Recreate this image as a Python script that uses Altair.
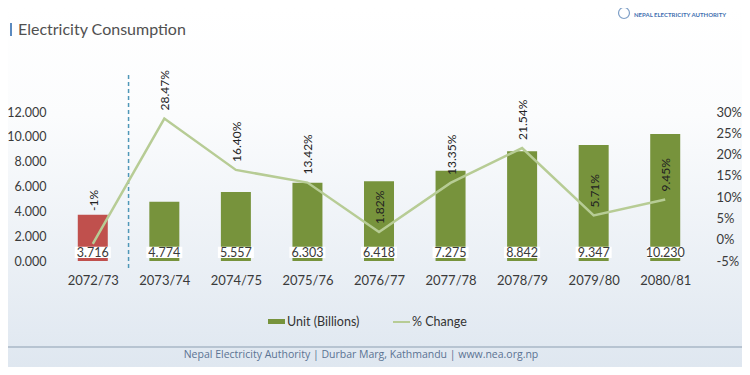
import json
import altair as alt
import pandas as pd

# ---- data ----
years = ["2072/73", "2073/74", "2074/75", "2075/76", "2076/77",
         "2077/78", "2078/79", "2079/80", "2080/81"]
units = [3.716, 4.774, 5.557, 6.303, 6.418, 7.275, 8.842, 9.347, 10.230]
unit_labels = ["3.716", "4.774", "5.557", "6.303", "6.418",
               "7.275", "8.842", "9.347", "10.230"]
pct_change = [-1.0, 28.47, 16.40, 13.42, 1.82, 13.35, 21.54, 5.71, 9.45]
pct_labels = ["-1%", "28.47%", "16.40%", "13.42%", "1.82%",
              "13.35%", "21.54%", "5.71%", "9.45%"]
left_ticks = [0, 2, 4, 6, 8, 10, 12]
right_ticks = [-5, 0, 5, 10, 15, 20, 25, 30]

title_text = "Electricity Consumption"
legend_labels = ["Unit (Billions)", "% Change"]
footer_text = "Nepal Electricity Authority | Durbar Marg, Kathmandu | www.nea.org.np"
logo_text = "NEPAL ELECTRICITY AUTHORITY"

df = pd.DataFrame({
    "idx": list(range(len(years))),
    "year": years,
    "unit": units,
    "unit_label": unit_labels,
    "pct": pct_change,
    "pct_label": pct_labels,
})

GREEN = "#77933c"
RED = "#c0504d"
LINE = "#b7cc95"
TXT = "#3a3a3a"
FONT = "Lato"

W, H = 654, 149
PAD_L = 44

xscale = alt.Scale(domain=[-0.5, len(years) - 0.5], nice=False, zero=False)
xaxis = alt.Axis(values=list(range(len(years))),
                 labelExpr=json.dumps(years) + "[datum.value]",
                 domain=False, ticks=False, grid=False, title=None, zindex=2,
                 labelPadding=13, labelFontSize=13, labelColor=TXT, labelFont=FONT)
X = alt.X("idx:Q", scale=xscale, axis=xaxis)

yl = alt.Scale(domain=[0, 12], nice=False, zero=False)
yl_axis = alt.Axis(values=left_ticks, format=".3f", domain=False, ticks=False,
                   grid=False, title=None, zindex=2, labelPadding=6,
                   labelFontSize=12.5, labelColor=TXT, labelFont=FONT)
yr = alt.Scale(domain=[-5, 30], nice=False, zero=False)
yr_axis = alt.Axis(orient="right", values=right_ticks,
                   labelExpr="datum.value + '%'", domain=False, ticks=False,
                   grid=False, title=None, zindex=2, labelPadding=10,
                   labelFontSize=13, labelColor=TXT, labelFont=FONT)

base = alt.Chart(df)

bars = base.mark_bar(size=30).encode(
    x=X,
    y=alt.Y("unit:Q", scale=yl, axis=yl_axis),
    color=alt.condition("datum.idx == 0", alt.value(RED), alt.value(GREEN)),
)
boxes = base.mark_bar(size=36, color="white").encode(
    x=X,
    y=alt.YDatum(0.25, type="quantitative", scale=yl, axis=yl_axis),
    y2=alt.Y2Datum(1.15),
)
vals = base.mark_text(fontSize=12.5, color=TXT, font=FONT, baseline="middle").encode(
    x=X,
    y=alt.YDatum(0.68, type="quantitative", scale=yl, axis=yl_axis),
    text="unit_label:N",
)
left_layer = alt.layer(bars, boxes, vals)

line = base.mark_line(color=LINE, strokeWidth=2.5).encode(
    x=X, y=alt.Y("pct:Q", scale=yr, axis=yr_axis)
)
pct_text = base.transform_filter("datum.idx > 0").mark_text(
    angle=270, align="left", baseline="middle", dx=8, dy=1,
    fontSize=12, color="#222", font=FONT
).encode(x=X, y=alt.Y("pct:Q", scale=yr, axis=yr_axis), text="pct_label:N")
pct_text0 = base.transform_filter("datum.idx == 0").mark_text(
    angle=270, align="left", baseline="middle", dx=33, dy=1,
    fontSize=12, color="#222", font=FONT
).encode(x=X, y=alt.Y("pct:Q", scale=yr, axis=yr_axis), text="pct_label:N")
right_layer = alt.layer(line, pct_text, pct_text0)

one = pd.DataFrame({"t": [title_text]})

bg = alt.Chart(one).mark_rect(
    color=alt.Gradient(gradient="linear", x1=0, x2=0, y1=0, y2=1,
                       stops=[alt.GradientStop(color="#ffffff", offset=0),
                              alt.GradientStop(color="#fbfcfd", offset=0.3),
                              alt.GradientStop(color="#dfe7f0", offset=1)])
).encode(x=alt.value(-PAD_L), x2=alt.value(690), y=alt.value(-104), y2=alt.value(255))

divider = alt.Chart(one).mark_rule(
    color="#4f97b8", strokeDash=[4, 3], strokeWidth=1.5
).encode(x=alt.XDatum(0.5, type="quantitative", scale=xscale, axis=xaxis),
         y=alt.value(-37), y2=alt.value(156))

title_bar = alt.Chart(one).mark_rule(color="#5a8ac0", strokeWidth=2).encode(
    x=alt.value(-41), y=alt.value(-89), y2=alt.value(-76))
title = alt.Chart(one).mark_text(
    align="left", baseline="middle", fontSize=16, color="#505050", font=FONT
).encode(x=alt.value(-34), y=alt.value(-82), text="t:N")

logo_circle = alt.Chart(one).mark_point(
    shape="circle", size=120, color="#4a78b0", strokeWidth=1.2, filled=False
).encode(x=alt.value(572), y=alt.value(-99))
logo = alt.Chart(pd.DataFrame({"t": [logo_text]})).mark_text(
    align="left", baseline="middle", fontSize=6, fontWeight="bold",
    color="#3f70b0", font=FONT
).encode(x=alt.value(582), y=alt.value(-97), text="t:N")

leg_bar = alt.Chart(one).mark_rect(color=GREEN).encode(
    x=alt.value(216), x2=alt.value(233), y=alt.value(207), y2=alt.value(212))
leg_bar_txt = alt.Chart(pd.DataFrame({"t": [legend_labels[0]]})).mark_text(
    align="left", baseline="middle", fontSize=12.5, color="#333", font=FONT
).encode(x=alt.value(235), y=alt.value(210), text="t:N")
leg_line = alt.Chart(one).mark_rule(color=LINE, strokeWidth=2).encode(
    x=alt.value(341), x2=alt.value(358), y=alt.value(210))
leg_line_txt = alt.Chart(pd.DataFrame({"t": [legend_labels[1]]})).mark_text(
    align="left", baseline="middle", fontSize=12.5, color="#333", font=FONT
).encode(x=alt.value(360), y=alt.value(210), text="t:N")

foot_rule = alt.Chart(one).mark_rule(color="#a9b7c6", strokeWidth=1.5).encode(
    x=alt.value(-PAD_L), x2=alt.value(690), y=alt.value(235))
foot = alt.Chart(pd.DataFrame({"t": [footer_text]})).mark_text(
    align="center", baseline="middle", fontSize=10.5, color="#5b7393",
    font="Open Sans"
).encode(x=alt.value(309), y=alt.value(243), text="t:N")

chart = alt.layer(
    bg, divider, left_layer, right_layer, title_bar, title, logo_circle, logo,
    leg_bar, leg_bar_txt, leg_line, leg_line_txt, foot_rule, foot
).resolve_scale(y="independent").properties(
    width=W, height=H,
    padding={"left": PAD_L, "top": 104, "right": 36, "bottom": 106},
    autosize=alt.AutoSizeParams(type="none"),
).configure_view(stroke=None).configure(font=FONT, background="white")

chart.save("out.html", embed_options={"renderer": "svg", "actions": False})
